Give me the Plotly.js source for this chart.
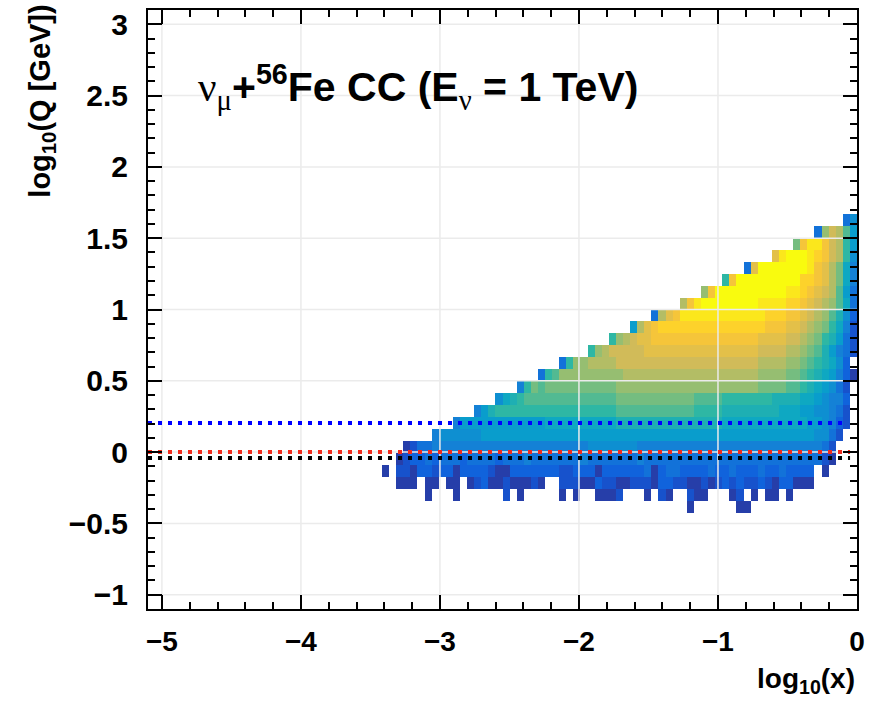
<!DOCTYPE html>
<html><head><meta charset="utf-8">
<script src="https://cdn.plot.ly/plotly-3.0.1.min.js"></script>
<style>html,body{margin:0;padding:0;background:#fff}#chart{width:889px;height:703px}</style>
</head><body><div id="chart"></div>
<script>
// ---- histogram binning ----
const xBinEdgeMin = -5.1, xBinWidth = 0.051, xBinCount = 100;
const yBinEdgeMin = -1.1, yBinWidth = 0.084, yBinCount = 50;

// colour level of each filled bin
// (1 = darkest blue ... 20 = brightest yellow), '.' = empty bin, spaces ignored
const levelCodes = "123456789ABCDEFGHIJK";
const firstFilledRow = 8;
const rowStartCol = [76, 39, 35, 33, 35, 36, 40, 43, 46, 49, 52, 55, 58, 62, 65, 68, 71, 75, 78, 81, 84, 88, 91, 94, 98];
const rowLevels = [
  "1......11",                                                         // row 8
  "1...1......2.1.....1.1..1112...1.21..211...12.1.11.1",              // row 9
  "111.1 1.11. 12311 21112 1..22 21132 21122 21332 21121 23232 23213 3111", // row 10
  "1.221 33233 13333 21133 33333 22333 13333 33413 44333 34334 33343 34333 3.1", // row 11
  "12334 34443 44443 44454 44444 45444 44445 44444 44444 44444 44444 44444 21", // row 12
  "1244 55555 55555 55555 55555 55666 66665 55555 55555 55555 55555 55555 42", // row 13
  "56666 66777 77777 77777 77777 77777 77777 77777 77777 77777 7777 6642",   // row 14
  "57777 77777 77788 88888 88899 99999 99999 99988 88888 88888 776532",      // row 15
  "579AA AAAAA AAAAA AAAAA BBBBB BBBBB BAAAA 99999 99988 87766 542",         // row 16
  "689AB BBBBB BBBBB BBCCC CCCCC CCCBB BBAAA AAAA9 99988 76553",             // row 17
  "5ACBC CCCCC CCCCD DDDDD DDDDD DDDDD DDDDC CCCBB A9876 42",                // row 18
  "4ABDD DDDDD DDEEE EEEEE EEEEE EEEEE EDDDD CCBA9 87531",                   // row 19
  "4ADDE EEEFF FFFFF FFFFF FFFFF FFFEE EEDDC BA986 3",                       // row 20
  "ADEFF FFFGG GGGGG GGGGG GGGGF FFFEE DCB97 542",                           // row 21
  "ADEFG GHHHH HHHHH HHHHH HGGGG FFEDC A9742",                               // row 22
  "7EGHI IIIII IIIII IIIIH HHGGF EDCA8 52",                                  // row 23
  "4EGHJ JJJJJ JJJJJ JIIIH HGFED B963",                                      // row 24
  "EHJKK KKKKK KJJJJ IIHGF EDB84",                                           // row 25
  "DHKKK KKKKK KKJJI HGFEB 74",                                              // row 26
  "AHKKK KKKKK KIIHG EC85",                                                  // row 27
  "4GKKK KKKKJ HGEC85",                                                      // row 28
  "GJKKK JIHFE A6",                                                          // row 29
  "CHJJH FEA7",                                                              // row 30
  "4DFEB7",                                                                  // row 31
  "46"                                                                       // row 32
];

// ---- axes ----
const xTickVals = [-5, -4, -3, -2, -1, 0];
const xTickText = ["\u22125", "\u22124", "\u22123", "\u22122", "\u22121", "0"];
const yTickVals = [-1, -0.5, 0, 0.5, 1, 1.5, 2, 2.5, 3];
const yTickText = ["\u22121", "\u22120.5", "0", "0.5", "1", "1.5", "2", "2.5", "3"];

// ---- reference lines ----
const blueLineX = [-5.1, -0.07], blueLineY = [0.204, 0.204];
const redLineX = [-5.1, -0.05], redLineY = [0, 0];
const blackLineX = [-5.1, -0.05], blackLineY = [-0.042, -0.042];

// ---- build heatmap matrix ----
const xEdges = [], yEdges = [];
for (let i = 0; i <= xBinCount; i++) xEdges.push(+(xBinEdgeMin + i * xBinWidth).toFixed(4));
for (let j = 0; j <= yBinCount; j++) yEdges.push(+(yBinEdgeMin + j * yBinWidth).toFixed(4));
const z = [];
for (let j = 0; j < yBinCount; j++) {
  const row = new Array(xBinCount).fill(null);
  const k = j - firstFilledRow;
  if (k >= 0 && k < rowLevels.length) {
    const s = rowLevels[k].replace(/ /g, "");
    for (let c = 0; c < s.length; c++) {
      if (s[c] !== ".") row[rowStartCol[k] + c] = levelCodes.indexOf(s[c]) + 1;
    }
  }
  z.push(row);
}

const bird = [
  [0, "#352a87"], [0.125, "#0f5cdd"], [0.25, "#1481d6"], [0.375, "#06a4ca"],
  [0.5, "#2eb7a4"], [0.625, "#87bf77"], [0.75, "#d1bb59"], [0.875, "#fec832"], [1, "#f9fb0e"]
];

const xr = [xBinEdgeMin, xBinEdgeMin + xBinCount * xBinWidth];
const yr = [yBinEdgeMin, yBinEdgeMin + yBinCount * yBinWidth];

const traces = [
  {type: "heatmap", x: xEdges, y: yEdges, z: z, colorscale: bird, zmin: 0, zmax: 20,
   showscale: false, zsmooth: false, hoverongaps: false}
];
// grid lines drawn over the histogram (as in the reference), under the dotted lines
const gridLine = {color: "#ebebeb", width: 1.5};
xTickVals.filter(v => v !== 0).forEach(v => traces.push({type: "scatter", mode: "lines",
  x: [v, v], y: yr, line: gridLine, showlegend: false, hoverinfo: "skip"}));
yTickVals.forEach(v => traces.push({type: "scatter", mode: "lines",
  x: xr, y: [v, v], line: gridLine, showlegend: false, hoverinfo: "skip"}));

const dotted = (color) => ({color: color, width: 4, dash: "4px,6px"});
traces.push(
  {type: "scatter", mode: "lines", x: blueLineX, y: blueLineY, line: dotted("#0000ff"), showlegend: false},
  {type: "scatter", mode: "lines", x: redLineX, y: redLineY, line: dotted("#f22a1c"), showlegend: false},
  {type: "scatter", mode: "lines", x: blackLineX, y: blackLineY, line: dotted("#000000"), showlegend: false}
);

const fam = "Liberation Sans, Arial, sans-serif";
const axisCommon = {
  ticks: "inside", ticklen: 14, tickwidth: 2, tickcolor: "#000",
  showline: true, linewidth: 2, linecolor: "#000", mirror: "allticks",
  showgrid: false, zeroline: false, layer: "above traces", fixedrange: true
};
const greek = "font-family:'Liberation Serif';font-weight:normal";
const layout = {
  width: 889, height: 703,
  margin: {l: 148, r: 32, t: 10, b: 94, pad: 0, autoexpand: false},
  paper_bgcolor: "#fff", plot_bgcolor: "#fff",
  showlegend: false,
  xaxis: Object.assign({}, axisCommon, {range: xr, tickmode: "array", tickvals: xTickVals, ticktext: xTickText,
    ticklabelstandoff: 6, tickfont: {family: fam, size: 28, color: "#000", weight: "bold"},
    minor: {ticks: "inside", ticklen: 7, tickwidth: 2, tickcolor: "#000", dtick: 0.2, tick0: 0, showgrid: false}}),
  yaxis: Object.assign({}, axisCommon, {range: yr, tickmode: "array", tickvals: yTickVals, ticktext: yTickText,
    ticklabelstandoff: 12, tickfont: {family: fam, size: 30, color: "#000", weight: "bold"},
    minor: {ticks: "inside", ticklen: 7, tickwidth: 2, tickcolor: "#000", dtick: 0.1, tick0: 0, showgrid: false}}),
  annotations: [
    {xref: "paper", yref: "paper", x: 0.068, y: 0.872, xanchor: "left", yanchor: "middle", showarrow: false,
     text: "<span style=\"" + greek + "\">\u03bd<sub>\u03bc</sub></span>+<sup>56</sup>Fe CC (E<sub><span style=\"" + greek + "\">\u03bd</span></sub> = 1 TeV)",
     font: {family: fam, size: 41, color: "#000", weight: "bold"}},
    {xref: "paper", yref: "paper", x: -0.149, y: 1.012, xanchor: "center", yanchor: "top", showarrow: false,
     textangle: -90, text: "log<sub>10</sub>(Q [GeV])",
     font: {family: fam, size: 29, color: "#000", weight: "bold"}},
    {xref: "paper", yref: "paper", x: 1.0, y: -0.086, xanchor: "right", yanchor: "top", showarrow: false,
     text: "log<sub>10</sub>(x)",
     font: {family: fam, size: 28, color: "#000", weight: "bold"}}
  ]
};
Plotly.newPlot("chart", traces, layout, {staticPlot: true, displayModeBar: false});
</script>
</body></html>
